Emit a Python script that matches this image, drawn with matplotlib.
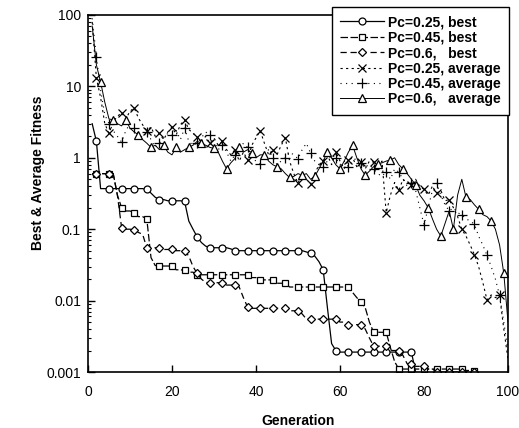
import numpy as np
import matplotlib
matplotlib.use("Agg")
import matplotlib.pyplot as plt
from matplotlib.ticker import FixedLocator, FixedFormatter, LogLocator, NullFormatter

plt.rcParams['font.family'] = ['Liberation Sans', 'DejaVu Sans']

generation = list(range(1, 101))

best_025 = [3.0, 1.7, 0.37, 0.37, 0.37, 0.37, 0.37, 0.37, 0.37, 0.37,
            0.37, 0.37, 0.37, 0.36, 0.32, 0.28, 0.26, 0.26, 0.25, 0.25,
            0.25, 0.25, 0.245, 0.13, 0.1, 0.078, 0.065, 0.058, 0.055, 0.055,
            0.055, 0.055, 0.055, 0.053, 0.05, 0.05, 0.05, 0.05, 0.05, 0.05,
            0.05, 0.05, 0.05, 0.05, 0.05, 0.05, 0.05, 0.05, 0.05, 0.05,
            0.05, 0.048, 0.046, 0.042, 0.035, 0.027, 0.008, 0.0025, 0.002, 0.0019,
            0.0019, 0.0019, 0.0019, 0.0019, 0.0019, 0.0019, 0.0019, 0.0019, 0.0019, 0.0019,
            0.0019, 0.0019, 0.0019, 0.0019, 0.0019, 0.0019, 0.0019, 0.001, 0.0008, 0.0008,
            0.0008, 0.0008, 0.0008, 0.0008, 0.0008, 0.0008, 0.0008, 0.0008, 0.0008, 0.0008,
            0.0008, 0.0008, 0.0008, 0.0008, 0.0008, 0.0008, 0.0008, 0.0008, 0.0008, 0.0008]

best_045 = [0.6, 0.6, 0.6, 0.6, 0.6, 0.6, 0.3, 0.2, 0.18, 0.18,
            0.17, 0.15, 0.15, 0.139, 0.04, 0.031, 0.0305, 0.0305, 0.0305, 0.0305,
            0.027, 0.027, 0.0265, 0.025, 0.025, 0.023, 0.023, 0.023, 0.023, 0.023,
            0.023, 0.023, 0.023, 0.023, 0.023, 0.023, 0.023, 0.023, 0.021, 0.021,
            0.0195, 0.0195, 0.0195, 0.0195, 0.0175, 0.0175, 0.0175, 0.0155, 0.0155, 0.0155,
            0.0155, 0.0155, 0.0155, 0.0155, 0.0155, 0.0155, 0.0155, 0.0155, 0.0155, 0.0155,
            0.0155, 0.0155, 0.013, 0.011, 0.0096, 0.008, 0.005, 0.0036, 0.0036, 0.0036,
            0.0036, 0.0022, 0.0014, 0.0011, 0.0011, 0.0011, 0.0011, 0.0011, 0.0011, 0.0011,
            0.0011, 0.0011, 0.0011, 0.0011, 0.0011, 0.0011, 0.0011, 0.0011, 0.0011, 0.00105,
            0.00105, 0.00102, 0.0008, 0.0008, 0.0008, 0.0008, 0.0008, 0.0008, 0.0008, 0.0008]

best_06 = [0.6, 0.6, 0.6, 0.6, 0.6, 0.6, 0.3, 0.105, 0.1, 0.1,
           0.098, 0.09, 0.085, 0.055, 0.055, 0.055, 0.054, 0.052, 0.052, 0.052,
           0.05, 0.05, 0.05, 0.042, 0.03, 0.024, 0.02, 0.018, 0.0178, 0.0178,
           0.0178, 0.0178, 0.0165, 0.0165, 0.0165, 0.0155, 0.011, 0.0081, 0.0078, 0.0078,
           0.0078, 0.0078, 0.0078, 0.0078, 0.0078, 0.0078, 0.0078, 0.0072, 0.0072, 0.0072,
           0.0065, 0.0055, 0.0055, 0.0055, 0.0055, 0.0055, 0.0055, 0.0055, 0.0055, 0.005,
           0.005, 0.0046, 0.0046, 0.0046, 0.0046, 0.004, 0.003, 0.0023, 0.0023, 0.0023,
           0.0023, 0.002, 0.002, 0.002, 0.0017, 0.0013, 0.0013, 0.0012, 0.0012, 0.0012,
           0.0011, 0.0011, 0.001, 0.001, 0.001, 0.001, 0.001, 0.001, 0.001, 0.001,
           0.001, 0.001, 0.0008, 0.0008, 0.0008, 0.0008, 0.0008, 0.0008, 0.0008, 0.0008]

avg_025 = [80, 13, 7, 3, 2.2, 3.2, 3.8, 4.3, 3.5, 4.5,
           5.0, 3.6, 2.9, 2.4, 2.7, 2.0, 2.2, 1.8, 2.3, 2.7,
           2.1, 2.9, 3.4, 2.5, 2.2, 1.95, 1.7, 2.0, 1.6, 1.9,
           1.5, 1.7, 1.3, 1.1, 1.3, 0.9, 1.2, 0.93, 1.5, 1.9,
           2.4, 1.6, 1.1, 1.3, 1.1, 1.5, 1.9, 0.9, 0.6, 0.44,
           0.6, 0.5, 0.43, 0.6, 0.8, 0.9, 1.1, 0.8, 1.2, 0.9,
           0.7, 0.93, 1.0, 0.75, 0.87, 0.7, 0.9, 0.87, 0.7, 0.9,
           0.17, 0.3, 0.45, 0.35, 0.5, 0.45, 0.42, 0.5, 0.4, 0.36,
           0.3, 0.4, 0.32, 0.35, 0.25, 0.26, 0.2, 0.15, 0.1, 0.08,
           0.06, 0.044, 0.03, 0.018, 0.0102, 0.012, 0.011, 0.0118, 0.004, 0.0015]

avg_045 = [90, 26, 9, 4, 3, 2.4, 2.0, 1.66, 2.4, 3.0,
           2.6, 2.2, 1.9, 2.3, 1.8, 1.4, 1.6, 1.9, 2.2, 2.1,
           2.4, 1.8, 2.6, 1.7, 1.5, 1.6, 1.9, 2.3, 2.1, 1.7,
           1.3, 1.5, 1.2, 0.9, 1.1, 1.3, 1.6, 1.4, 1.0, 0.9,
           0.82, 1.1, 1.3, 1.0, 0.8, 0.9, 1.0, 1.2, 1.1, 0.97,
           1.3, 1.6, 1.15, 0.9, 0.8, 0.75, 0.9, 1.1, 1.0, 0.8,
           0.9, 0.75, 0.9, 1.0, 0.85, 0.75, 0.8, 0.7, 0.6, 0.55,
           0.64, 0.5, 0.7, 0.63, 0.5, 0.4, 0.45, 0.35, 0.2, 0.115,
           0.2, 0.35, 0.44, 0.3, 0.22, 0.18, 0.2, 0.17, 0.16, 0.14,
           0.13, 0.118, 0.08, 0.06, 0.043, 0.03, 0.02, 0.0118, 0.005, 0.002]

avg_06 = [70, 20, 11.5, 6, 3.5, 3.4, 3.0, 2.8, 3.4, 2.6,
          2.3, 2.1, 1.8, 1.6, 1.4, 1.5, 1.3, 1.5, 1.2, 1.1,
          1.4, 1.2, 1.3, 1.4, 1.5, 1.7, 1.6, 1.5, 1.4, 1.35,
          1.2, 0.9, 0.7, 0.85, 0.98, 1.4, 1.2, 1.3, 1.17, 1.0,
          1.1, 1.1, 0.9, 0.8, 0.75, 0.7, 0.6, 0.53, 0.55, 0.6,
          0.57, 0.6, 0.5, 0.55, 0.7, 0.9, 1.2, 1.0, 0.8, 0.7,
          0.9, 1.2, 1.5, 1.0, 0.7, 0.57, 0.65, 0.75, 0.82, 0.85,
          0.9, 0.93, 1.0, 0.8, 0.7, 0.6, 0.5, 0.42, 0.3, 0.25,
          0.2, 0.14, 0.1, 0.08, 0.12, 0.18, 0.1, 0.3, 0.5, 0.28,
          0.26, 0.22, 0.19, 0.16, 0.15, 0.13, 0.1, 0.06, 0.024, 0.005]

labels = ["Pc=0.25, best", "Pc=0.45, best", "Pc=0.6,   best",
          "Pc=0.25, average", "Pc=0.45, average", "Pc=0.6,   average"]
y_ticks = [0.001, 0.01, 0.1, 1, 10, 100]
y_tick_labels = ["0.001", "0.01", "0.1", "1", "10", "100"]
x_ticks = [0, 20, 40, 60, 80, 100]

fig = plt.figure(figsize=(5.19, 4.28), dpi=100)
ax = fig.add_axes([88/519, 1-372/428, 420/519, 357/428])

common = dict(color='black', markerfacecolor='white', markeredgecolor='black',
              markeredgewidth=0.9, markersize=5)
ax.plot(generation, best_025, marker='o', linestyle='-', linewidth=0.9,
        markevery=(1, 3), label=labels[0], **common)
ax.plot(generation, best_045, marker='s', linestyle=(0, (6, 2)), linewidth=0.9,
        markevery=(1, 3), label=labels[1], **common)
ax.plot(generation, best_06, marker='D', linestyle=(0, (5, 3)), linewidth=0.9,
        markevery=(1, 3), label=labels[2], **dict(common, markersize=4))
ax.plot(generation, avg_025, marker='x', linestyle=(0, (2, 3)), linewidth=0.8,
        markevery=(1, 3), label=labels[3], **dict(common, markersize=6))
ax.plot(generation, avg_045, marker='+', linestyle=(0, (1, 4)), linewidth=0.8,
        markevery=(1, 3), label=labels[4], **dict(common, markersize=7))
ax.plot(generation, avg_06, marker='^', linestyle='-', linewidth=0.7,
        markevery=(2, 3), label=labels[5], **dict(common, markersize=6))

ax.set_yscale('log')
ax.set_ylim(0.001, 100)
ax.set_xlim(0, 100)
ax.yaxis.set_major_locator(FixedLocator(y_ticks))
ax.yaxis.set_major_formatter(FixedFormatter(y_tick_labels))
ax.yaxis.set_minor_locator(LogLocator(base=10, subs=np.arange(2, 10)))
ax.yaxis.set_minor_formatter(NullFormatter())
ax.set_xticks(x_ticks)
ax.tick_params(axis='both', which='major', direction='in', length=5, width=1,
               labelsize=10, pad=5, right=False, top=False)
ax.tick_params(axis='y', which='minor', direction='in', length=2.5, width=0.8, right=False)
ax.tick_params(axis='x', which='major', pad=9)
for s in ax.spines.values():
    s.set_linewidth(1.2)

ax.set_xlabel("Generation", fontsize=10, fontweight='bold')
ax.set_ylabel("Best & Average Fitness", fontsize=10, fontweight='bold')
ax.xaxis.set_label_coords(0.5, -0.118)
ax.yaxis.set_label_coords(-0.102, 0.557)

leg = ax.legend(loc='upper right', bbox_to_anchor=(509/519, 1-7/428),
                bbox_transform=fig.transFigure, borderaxespad=0, numpoints=1,
                handlelength=3.2, handletextpad=0.25, labelspacing=0.1,
                borderpad=0.6, fancybox=False, framealpha=1,
                prop={'weight': 'bold', 'size': 10})
leg.get_frame().set_edgecolor('black')
leg.get_frame().set_linewidth(1.0)

fig.savefig("out.png", dpi=100)
